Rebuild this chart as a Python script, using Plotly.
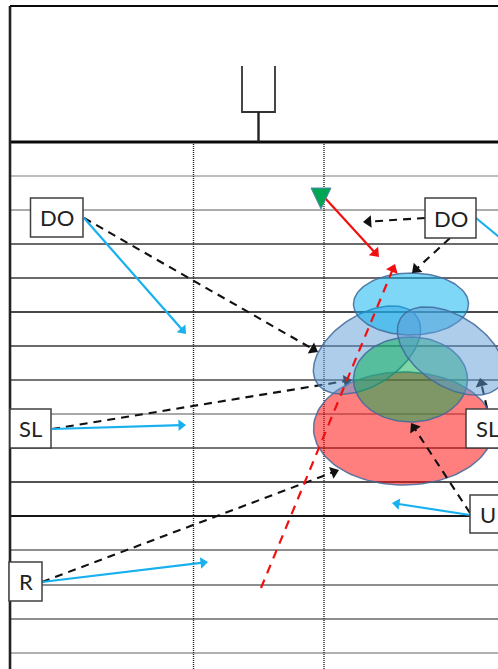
import numpy as np
import plotly.graph_objects as go

W, H = 498, 669
grid_y = [176, 210, 244, 278, 312, 346, 380, 414, 448, 482, 516, 550, 585, 619, 653]
grid_colors = ["#a8a8a8", "#909090", "#383838", "#383838", "#484848", "#383838", "#484848", "#8c8c8c",
               "#484848", "#181818", "#181818", "#686868", "#686868", "#686868", "#b0b0b0"]
grid_widths = [1.5, 1.5, 1.5, 1.5, 2, 1.5, 1.5, 1.5, 1.5, 1.5, 2.2, 1.5, 1.5, 1.5, 1.8]
yard_x = [193.5, 324]

# drawn back to front
ellipse_names = ["red", "left", "top", "green", "right"]
ellipse_cx = [403.5, 367, 411, 410.5, 451]
ellipse_cy = [428.5, 350, 304, 379.5, 351]
ellipse_rx = [90, 60, 57.5, 57, 60]
ellipse_ry = [56.5, 35, 31, 42.5, 35]
ellipse_tilt = [0, -33.5, 0, 0, 33.5]
ellipse_fill = ["rgba(255,0,0,0.5)", "rgba(91,155,213,0.5)", "rgba(0,176,240,0.5)",
                "rgba(0,176,80,0.5)", "rgba(91,155,213,0.5)"]

under_black = [[(52, 429), (352, 380)], [(487, 408), (480, 378)]]
black_dashed = [[(84, 218), (318, 352)], [(425, 218), (363, 222)], [(450, 238), (412, 273)],
                [(42, 582), (339, 470)], [(470, 513), (411, 423)]]
blue_solid = [[(84, 218), (186, 334)], [(476, 218), (515, 250)], [(52, 429), (186, 425)],
              [(42, 582), (208, 562)], [(470, 515), (392, 503)]]
red_solid = [[(325, 198), (379, 257)]]
red_dashed = [[(261, 588), (395, 264)]]

box_labels = ["DO", "DO", "SL", "SL", "U", "R"]
box_x0 = [30.5, 425, 10, 466, 470, 9]
box_x1 = [83, 476, 51, 510, 510, 42]
box_y0 = [198, 198, 409, 409, 495, 562]
box_y1 = [237, 238, 448, 448, 533, 601]
label_x = [57, 451, 30, 487, 488, 26]

post_x = [242, 242, 275, 275]
post_y = [66, 112, 112, 66]
stem_x = [258.5, 258.5]
stem_y = [112, 142]
flag_x = [311, 331, 321, 311]
flag_y = [188, 188, 209, 188]

fig = go.Figure()


def line(x, y, color, width, dash="solid"):
    fig.add_trace(go.Scatter(x=x, y=y, mode="lines", hoverinfo="skip",
                             line=dict(color=color, width=width, dash=dash)))


def arrow(seg, color, width, dash="solid", size=11):
    xs = [p[0] for p in seg]
    ys = [p[1] for p in seg]
    fig.add_trace(go.Scatter(
        x=xs, y=ys, mode="lines+markers", hoverinfo="skip",
        line=dict(color=color, width=width, dash=dash),
        marker=dict(symbol="triangle-up", size=[0, size], color=color, opacity=1,
                    angleref="previous", standoff=size / 2, line=dict(width=0))))


for y, c, w in zip(grid_y, grid_colors, grid_widths):
    line([10, W], [y, y], c, w)
for x in yard_x:
    line([x, x], [142, H], "#222222", 1.4, "1px,1px")
line([10, W], [142, 142], "#0a0a0a", 3.2)
line([10, 10], [6, H], "#222222", 2.6)
line([10, W], [6, 6], "#0a0a0a", 2.2)
line(post_x, post_y, "#333333", 1.8)
line(stem_x, stem_y, "#222222", 2.4)

for seg in under_black:
    arrow(seg, "#111111", 2.1, "8px,6px")

t = np.linspace(0, 2 * np.pi, 121)
for cx, cy, rx, ry, tilt, fc in zip(ellipse_cx, ellipse_cy, ellipse_rx, ellipse_ry, ellipse_tilt, ellipse_fill):
    a = np.deg2rad(tilt)
    ex = cx + rx * np.cos(t) * np.cos(a) - ry * np.sin(t) * np.sin(a)
    ey = cy + rx * np.cos(t) * np.sin(a) + ry * np.sin(t) * np.cos(a)
    fig.add_trace(go.Scatter(x=ex, y=ey, mode="lines", fill="toself", fillcolor=fc, hoverinfo="skip",
                             line=dict(color="rgba(65,105,155,0.85)", width=1.5)))

for seg in black_dashed:
    arrow(seg, "#111111", 2.1, "8px,6px")
for seg in blue_solid:
    arrow(seg, "#18b0ee", 2.2, size=10)
for seg in red_solid:
    arrow(seg, "#f01010", 2.2)
for seg in red_dashed:
    arrow(seg, "#f01010", 2.2, "9px,7px")

fig.add_trace(go.Scatter(x=flag_x, y=flag_y, mode="lines", fill="toself", fillcolor="#00a651", hoverinfo="skip",
                         line=dict(color="#5b86b0", width=1)))

for label, x0, x1, y0, y1, lx in zip(box_labels, box_x0, box_x1, box_y0, box_y1, label_x):
    fig.add_shape(type="rect", x0=x0, x1=x1, y0=y0, y1=y1, fillcolor="white",
                  line=dict(color="#404040", width=1.5), layer="above")
    fig.add_annotation(x=lx, y=(y0 + y1) / 2, text=label, showarrow=False,
                       font=dict(family="Lato", size=22, color="#222222"))

fig.update_layout(width=W, height=H, margin=dict(l=0, r=0, t=0, b=0), showlegend=False,
                  paper_bgcolor="white", plot_bgcolor="white",
                  xaxis=dict(range=[0, W], visible=False, fixedrange=True),
                  yaxis=dict(range=[H, 0], visible=False, fixedrange=True))
fig.write_html("out.html", config={"displayModeBar": False},
               post_script="document.body.style.margin='0';document.body.style.overflow='hidden';")
